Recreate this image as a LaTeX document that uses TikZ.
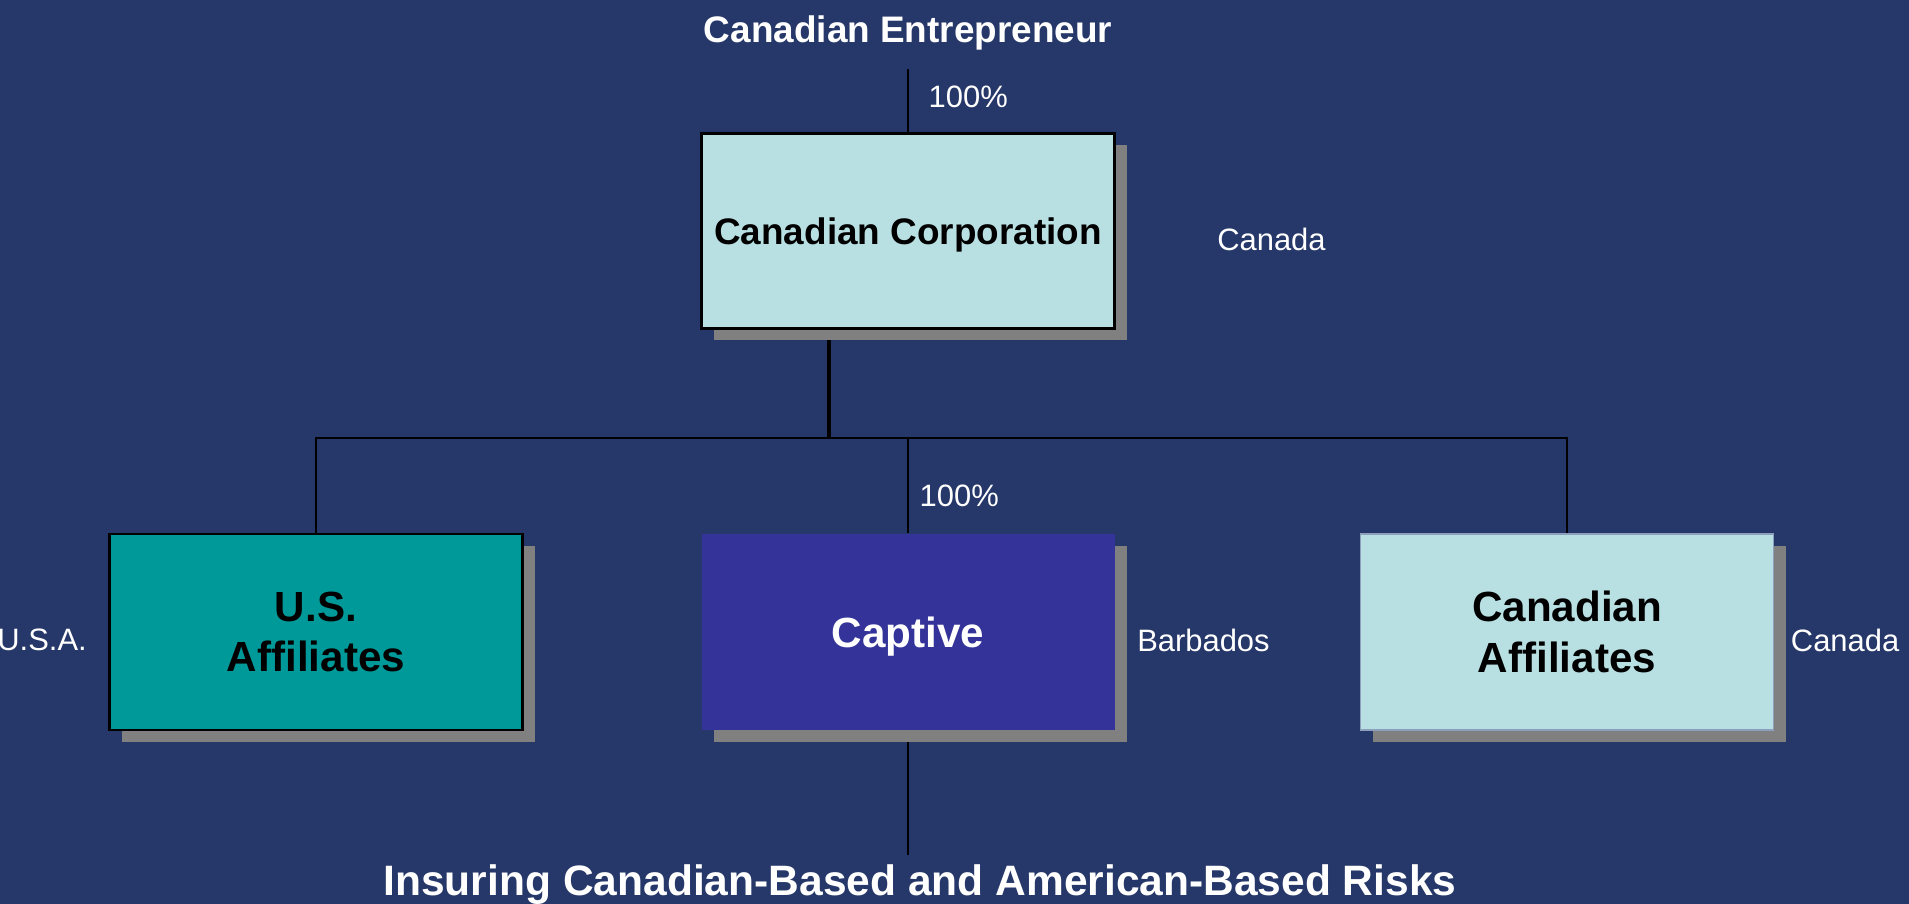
\documentclass[tikz,border=0pt]{standalone}
\usepackage{fontspec}
\setmainfont{Liberation Sans}
\usepackage{xcolor}
\usetikzlibrary{positioning,shadows}

\definecolor{slide}{RGB}{38,56,105}
\definecolor{pale}{RGB}{184,224,227}
\definecolor{paleedge}{RGB}{140,160,190}
\definecolor{usteal}{RGB}{0,153,153}
\definecolor{captivefill}{RGB}{51,51,153}
\definecolor{shade}{RGB}{128,128,128}

\pgfdeclarelayer{back}
\pgfdeclarelayer{lines}
\pgfsetlayers{back,lines,main}

\begin{document}
\begin{tikzpicture}[
    box/.style={draw=black, line width=0.6pt, minimum width=4.13cm, minimum height=1.96cm, align=center, inner sep=0pt,
        font=\bfseries\fontsize{12}{14.5}\selectfont,
        drop shadow={shadow xshift=1.2mm, shadow yshift=-1.2mm, fill=shade, opacity=1}},
    tag/.style={text=white, font=\fontsize{8.8}{10.5}\selectfont, inner sep=0pt},
    heading/.style={text=white, anchor=base},
    link/.style={line width=0.6pt},
    trunk/.style={line width=1.4pt}
]
    % Slide background
    \begin{pgfonlayer}{back}
        \fill[slide] (0,0) rectangle (19.09,9.04);
    \end{pgfonlayer}
    \useasboundingbox (0,0) rectangle (19.09,9.04);

    % Owner
    \node[heading, font=\bfseries\fontsize{10.5}{12.5}\selectfont, inner sep=1.8mm] (owner) at (9.08,8.61) {Canadian Entrepreneur};
    \node[tag, anchor=west] (pcttop) at (9.28,8.07) {100\%};

    % Canadian Corporation
    \node[box, fill=pale, minimum height=1.95cm, text depth=0pt, font=\bfseries\fontsize{10.5}{12.5}\selectfont] (corp) at (9.08,6.73) {Canadian Corporation};
    \node[tag, right=1.01cm of corp, yshift=-0.8mm] (cdatop) {Canada};

    % Affiliates and captive
    \node[box, fill=usteal] (usaff) at (3.16,2.72) {U.S.\\Affiliates};
    \node[box, fill=captivefill, draw=none, text=white, text depth=0pt] (captive) at (9.08,2.72) {Captive};
    \node[box, fill=pale, draw=paleedge, line width=0.4pt] (cdaaff) at (15.67,2.72) {Canadian\\Affiliates};

    % Jurisdictions
    \node[tag, left=0.21cm of usaff, yshift=-0.8mm] (usa) {U.S.A.};
    \node[tag, right=0.21cm of captive, yshift=-0.8mm] (barbados) {Barbados};
    \node[tag, right=0.16cm of cdaaff, yshift=-0.8mm] (cdaright) {Canada};
    \node[tag, anchor=west] (pctcaptive) at (9.19,4.08) {100\%};

    % Risks
    \node[heading, font=\bfseries\fontsize{12.1}{14}\selectfont, inner sep=0.8mm] (risks) at (9.20,0.09) {Insuring Canadian-Based and American-Based Risks};

    % Connectors
    \coordinate (bus) at (8.29,4.66);
    \begin{pgfonlayer}{lines}
        \draw[link] (owner) -- (corp);
        \draw[trunk] (corp.south -| bus) -- (bus);
        \draw[link] (usaff.north) -- (usaff.north |- bus) -- (cdaaff.north |- bus) -- (cdaaff.north);
        \draw[link] (captive.north |- bus) -- (captive.north);
        \draw[link] (captive.south) -- (captive.south |- risks.north);
    \end{pgfonlayer}
\end{tikzpicture}
\end{document}
